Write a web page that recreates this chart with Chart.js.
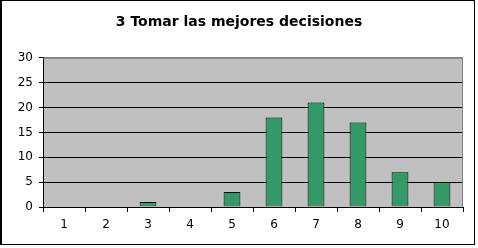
<!DOCTYPE html>
<html>
<head>
<meta charset="utf-8">
<script src="https://cdn.jsdelivr.net/npm/chart.js@4/dist/chart.umd.min.js"></script>
<style>
  html, body { margin: 0; padding: 0; background: #ffffff; }
  #wrap { position: relative; width: 478px; height: 248px; }
</style>
</head>
<body>
<div id="wrap"><canvas id="grafico"></canvas></div>
<script>
const categorias = ['1', '2', '3', '4', '5', '6', '7', '8', '9', '10'];
const respuestas = [0, 0, 1, 0, 3, 18, 21, 17, 7, 5];
const titulo = '3 Tomar las mejores decisiones';

// fondo gris del area de trazado y marco exterior
const fondoExcel = {
    id: 'fondoExcel',
    beforeDraw(chart) {
        const c = chart.ctx;
        const a = chart.chartArea;
        c.save();
        c.fillStyle = '#ffffff';
        c.fillRect(0, 0, chart.width, chart.height);
        c.fillStyle = '#c0c0c0';
        c.fillRect(a.left, a.top, a.right - a.left, a.bottom - a.top);
        c.restore();
    },
    afterDraw(chart) {
        const c = chart.ctx;
        const a = chart.chartArea;
        c.save();
        c.strokeStyle = '#808080';
        c.lineWidth = 1;
        c.beginPath();
        c.moveTo(a.left, a.top + 0.5);
        c.lineTo(a.right - 0.5, a.top + 0.5);
        c.lineTo(a.right - 0.5, a.bottom);
        c.stroke();
        c.strokeStyle = '#000000';
        c.strokeRect(0.5, 0.5, 474, 244);
        c.fillStyle = '#000000';
        c.fillRect(0, 0, 2, 245);
        c.restore();
    }
};

const ctx = document.getElementById('grafico').getContext('2d');
const grafico = new Chart(ctx, {
    type: 'bar',
    data: {
        labels: categorias,
        datasets: [{
            label: titulo,
            data: respuestas,
            backgroundColor: '#339966',
            borderColor: '#000000',
            borderWidth: 1,
            barPercentage: 0.4,
            categoryPercentage: 1
        }]
    },
    options: {
        responsive: true,
        maintainAspectRatio: false,
        animation: false,
        layout: { padding: 0 },
        plugins: {
            legend: { display: false },
            tooltip: { enabled: false },
            title: {
                display: true,
                text: titulo,
                color: '#000000',
                font: { family: 'DejaVu Sans', size: 14, weight: 'bold' },
                padding: { top: 14, bottom: 27 }
            }
        },
        scales: {
            x: {
                offset: true,
                grid: {
                    offset: true,
                    drawOnChartArea: false,
                    drawTicks: true,
                    tickLength: 5,
                    color: '#000000'
                },
                border: { color: '#000000', width: 1 },
                ticks: {
                    color: '#000000',
                    padding: 6,
                    font: { family: 'DejaVu Sans', size: 12 }
                },
                afterFit(scale) { scale.height = 41; }
            },
            y: {
                min: 0,
                max: 30,
                ticks: {
                    stepSize: 5,
                    color: '#000000',
                    padding: 6,
                    font: { family: 'DejaVu Sans', size: 12 }
                },
                grid: {
                    color: ctx => ctx.tick && ctx.tick.value === 30 ? '#808080' : '#000000',
                    tickLength: 4,
                    tickColor: '#000000'
                },
                border: { color: '#000000', width: 1 },
                afterFit(scale) { scale.width = 43; }
            },
            // eje vacio a la derecha para dejar el margen sin mover el titulo
            margen: {
                position: 'right',
                min: 0,
                max: 30,
                ticks: { display: false },
                grid: { display: false },
                border: { display: false },
                afterFit(scale) { scale.width = 15; }
            }
        }
    },
    plugins: [fondoExcel]
});
</script>
</body>
</html>
